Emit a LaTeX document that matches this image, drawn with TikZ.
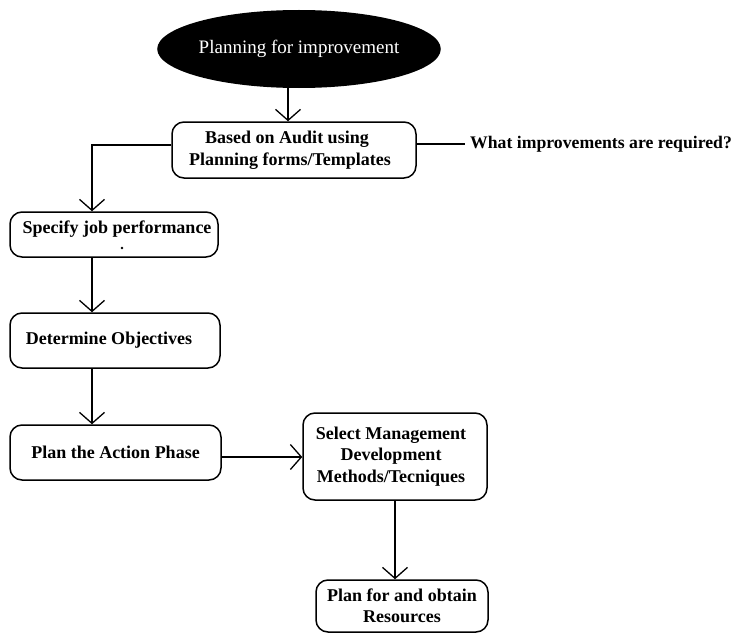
\documentclass[tikz,border=0pt]{standalone}
\usepackage{fontspec}
\setmainfont{Liberation Serif}
\usetikzlibrary{shapes.geometric,arrows.meta}

\begin{document}
\begin{tikzpicture}[x=1pt,y=-1pt,
  stepbox/.style={draw=black, line width=1.5pt, rounded corners=12pt,
    inner sep=0pt, align=center,
    font=\fontsize{18}{21.5}\selectfont\bfseries},
  startnode/.style={ellipse, fill=black, text=white, inner sep=0pt,
    minimum width=238pt, minimum height=78pt,
    font=\fontsize{19}{22}\selectfont},
  flow/.style={line width=1.5pt, -{Straight Barb[length=11pt,width=25pt,line width=1.3pt]}},
  plain/.style={line width=1.3pt}
]
\useasboundingbox (0,0) rectangle (739,634);

% start of the process
\node[startnode] (ell) at (299,49) {Planning for improvement};

% process steps
\node[stepbox, minimum width=244pt, minimum height=56pt] (audit) at (294,150)
  {Based on Audit using\kern14pt\\Planning forms/Templates\kern8pt};
\node[stepbox, minimum width=208pt, minimum height=45pt] (spec) at (114,234.5) {};
\node[font=\fontsize{18}{21.5}\selectfont\bfseries, inner sep=0pt] (spectext) at (117,229)
  {Specify job performance};
\node[circle, fill=black, inner sep=0pt, minimum size=2.6pt] (specdot) at (122,248) {};
\node[stepbox, minimum width=210pt, minimum height=55pt] (obj) at (115,340.5)
  {Determine Objectives\kern12pt};
\node[stepbox, minimum width=211pt, minimum height=55pt] (act) at (115.5,452.5)
  {Plan the Action Phase};
\node[stepbox, minimum width=184pt, minimum height=87pt] (meth) at (395,456.5)
  {Select Management\kern8pt\\Development\kern8pt\\Methods/Tecniques\kern8pt};
\node[stepbox, minimum width=172pt, minimum height=52pt] (res) at (402,606)
  {Plan for and obtain\\Resources};

% side question
\node[anchor=west, inner sep=5pt, font=\fontsize{17.7}{21}\selectfont\bfseries] (q) at (465,144)
  {What improvements are required?};

% guide coordinates for the vertical and horizontal runs
\coordinate (topx) at (288,0);
\coordinate (leftx) at (92,0);
\coordinate (rowy) at (0,457);
\coordinate (audity) at (0,145);

% connectors
\draw[flow] (ell.south -| topx) -- (audit.north -| topx);
\draw[flow] (audit.west |- audity) -| (spec.north -| leftx);
\draw[flow] (spec.south -| leftx) -- (obj.north -| leftx);
\draw[flow] (obj.south -| leftx) -- (act.north -| leftx);
\draw[flow] (act.east |- rowy) -- (meth.west |- rowy);
\draw[flow] (meth.south) -- (meth.south |- res.north);
\draw[plain] (q.west -| audit.east) -- (q.west);
\end{tikzpicture}
\end{document}
